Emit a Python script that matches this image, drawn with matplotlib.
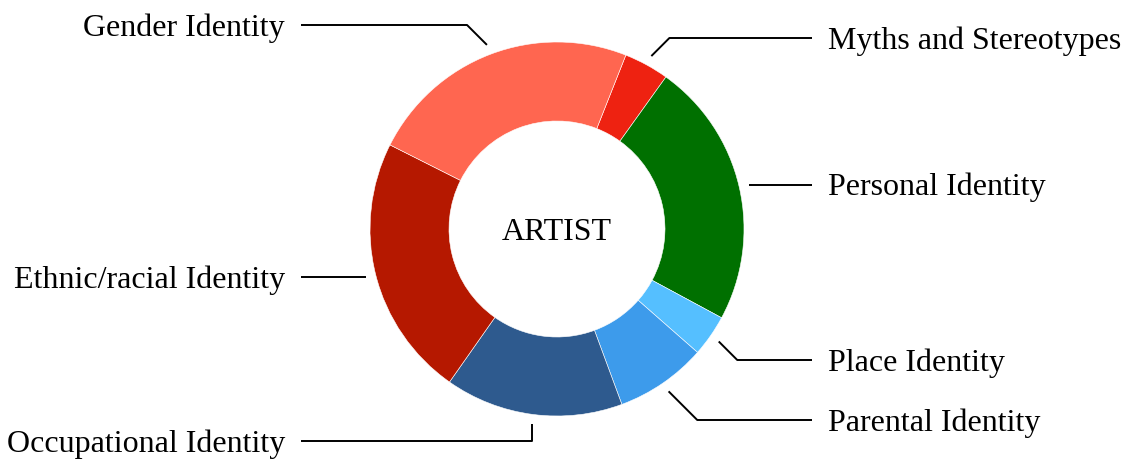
import numpy as np
import matplotlib.pyplot as plt

plt.rcParams['font.family'] = ['Liberation Serif', 'DejaVu Serif']

# segments, clockwise starting from "Myths and Stereotypes"
categories = ['Myths and Stereotypes', 'Personal Identity', 'Place Identity',
              'Parental Identity', 'Occupational Identity',
              'Ethnic/racial Identity', 'Gender Identity']
shares = [3.9, 23.0, 3.6, 7.9, 15.4, 22.7, 23.6]
colors = ['#EE2211', '#007000', '#55BFFF', '#3D9BEB', '#2E5A8E', '#B51800', '#FF6650']
center_label = 'ARTIST'

# label layout (image pixels, y from top)
label_side = [1, 1, 1, 1, -1, -1, -1]
label_y = [38, 184, 360, 420, 441, 274, 25]
bend = ['diag', 'flat', 'diag', 'diag', 'vert', 'flat', 'diag']

W, H = 1129, 462
cx, cy = 557, H - 229
r_out, r_in = 187, 108
text_drop = 3

fig = plt.figure(figsize=(W / 100, H / 100), dpi=100, facecolor='white')
ax = fig.add_axes([0, 0, 1, 1])
wedges, _ = ax.pie(shares, colors=colors, radius=r_out, center=(cx, cy),
                   startangle=68.4, counterclock=False,
                   wedgeprops=dict(width=r_out - r_in, edgecolor='white', linewidth=0.4))
ax.set_xlim(0, W)
ax.set_ylim(0, H)
ax.axis('off')

ax.text(cx, cy - text_drop, center_label, ha='center', va='center', fontsize=23, color='black')

for w, name, side, ly, b in zip(wedges, categories, label_side, label_y, bend):
    ang = np.deg2rad((w.theta1 + w.theta2) / 2)
    sx = cx + (r_out + 10) * np.cos(ang)
    sy = cy + (r_out + 10) * np.sin(ang)
    ey = H - ly
    if b == 'vert':
        ex = sx
    elif b == 'flat':
        ex, ey = sx, sy
    else:
        ex = sx + side * abs(ey - sy)
    lx = 812 if side > 0 else 301
    ax.plot([sx, ex, lx], [sy, ey, ey], color='black', lw=1.4, solid_capstyle='butt')
    ax.text(lx + side * 16, ey - text_drop, name, ha='left' if side > 0 else 'right',
            va='center', fontsize=23, color='black')

plt.savefig('out.png', dpi=100, facecolor='white')
plt.close()
